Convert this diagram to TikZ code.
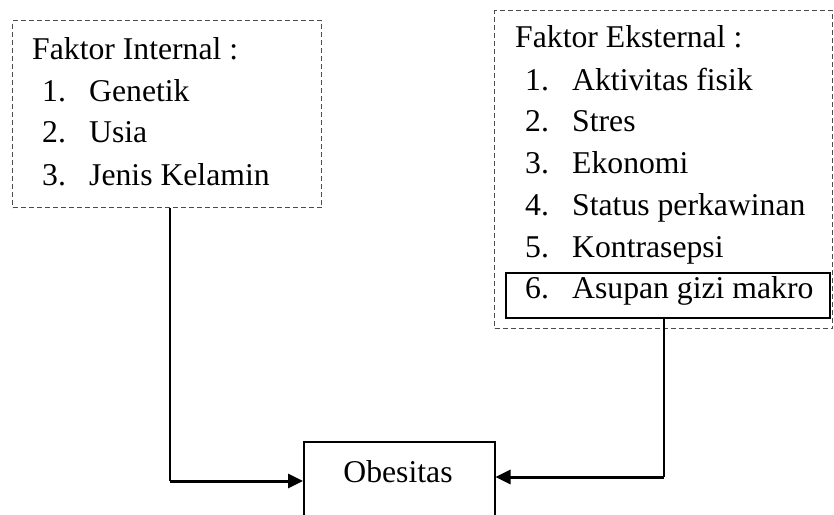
\documentclass[tikz,border=0pt]{standalone}
\usepackage{fontspec}
\setmainfont{Liberation Serif}
\usetikzlibrary{arrows.meta}
\begin{document}
\begin{tikzpicture}[x=1pt,y=-1pt,
  font=\fontsize{31.7}{38}\selectfont,
  dbox/.style={draw=black!70, dash pattern=on 5pt off 3pt, line width=1.3pt, rectangle, inner sep=0pt, anchor=north west},
  sbox/.style={draw=black, rectangle, inner sep=0pt, anchor=north west},
  txt/.style={anchor=base west, inner sep=0pt},
  thinline/.style={draw=black, line width=1.6pt},
  arr/.style={draw=black, line width=3pt, -{Triangle[length=15pt,width=14pt]}}]
\clip (0,0) rectangle (834,514);
\fill[white] (0,0) rectangle (834,514);
% boxes
\node[dbox, minimum width=309pt, minimum height=187pt] (intl) at (12,20) {};
\node[dbox, minimum width=338pt, minimum height=318pt] (ext) at (494,10) {};
\node[sbox, line width=2.2pt, minimum width=324pt, minimum height=45pt] (gizi) at (505,272) {};
\node[sbox, line width=1.5pt, minimum width=191pt, minimum height=100pt] (ob) at (303,441) {};
% texts left
\node[txt] (ti) at (32,59) {Faktor Internal :};
\node[txt] (n1) at (42,101) {1.};
\node[txt] (i1) at (89,101) {Genetik};
\node[txt] (n2) at (42,142) {2.};
\node[txt] (i2) at (89,142) {Usia};
\node[txt] (n3) at (42,185) {3.};
\node[txt] (i3) at (89,185) {Jenis Kelamin};
% texts right
\node[txt] (te) at (515,47) {Faktor Eksternal :};
\node[txt] (m1) at (525,90) {1.};
\node[txt] (e1) at (572,90) {Aktivitas fisik};
\node[txt] (m2) at (525,131) {2.};
\node[txt] (e2) at (572,131) {Stres};
\node[txt] (m3) at (525,173) {3.};
\node[txt] (e3) at (572,173) {Ekonomi};
\node[txt] (m4) at (525,215) {4.};
\node[txt] (e4) at (572,215) {Status perkawinan};
\node[txt] (m5) at (525,257) {5.};
\node[txt] (e5) at (572,257) {Kontrasepsi};
\node[txt] (m6) at (525,298) {6.};
\node[txt] (e6) at (572,298) {Asupan gizi makro};
% obesitas text
\node[anchor=base, inner sep=0pt] (obt) at (398,482) {Obesitas};
% connectors
\coordinate (lc) at (170,481);
\coordinate (rc) at (664,477);
\draw[thinline] (intl.south -| lc) -- (lc);
\draw[arr] (lc) -- (lc -| ob.west);
\draw[thinline] (gizi.south -| rc) -- (rc);
\draw[arr] (rc) -- (rc -| ob.east);
\end{tikzpicture}
\end{document}
